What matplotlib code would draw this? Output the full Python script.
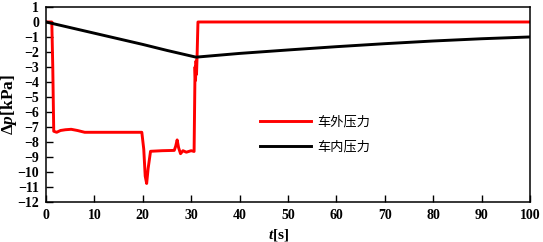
import numpy as np
import matplotlib.pyplot as plt

# outside pressure (red)
red_t = [0, 1.2, 1.4, 1.6, 2.2, 3.0, 4.0, 5.2, 6.5, 8.0, 19.8, 20.2, 20.5, 20.8, 21.1,
         21.6, 24.0, 26.5, 26.8, 27.1, 27.4, 27.8, 28.3, 29.0, 30.0, 30.6, 30.8, 30.9,
         31.0, 31.1, 31.2, 31.4, 100]
red_p = [0, 0, -3.0, -7.3, -7.37, -7.25, -7.2, -7.17, -7.25, -7.37, -7.37, -8.5, -10.3,
         -10.79, -9.8, -8.64, -8.6, -8.58, -8.3, -7.88, -8.4, -8.8, -8.6, -8.7, -8.6,
         -8.65, -3.0, -3.9, -2.6, -3.5, -2.5, 0, 0]

# inside pressure (black)
blk_t = [0, 10, 20, 25, 31, 40, 50, 60, 70, 80, 90, 100]
blk_p = [0, -0.75, -1.5, -1.9, -2.35, -2.1, -1.87, -1.65, -1.45, -1.27, -1.12, -1.0]

labels = ['车外压力', '车内压力']
xticks = list(range(0, 101, 10))
yticks = list(range(-12, 2))

plt.rcParams['font.family'] = ['Liberation Serif', 'Noto Sans CJK SC']
plt.rcParams['mathtext.fontset'] = 'custom'
plt.rcParams['mathtext.rm'] = 'Liberation Serif:bold'
plt.rcParams['mathtext.it'] = 'Liberation Serif:italic:bold'

fig = plt.figure(figsize=(5.43, 2.42), dpi=100)
ax = fig.add_axes([0.0847, 0.167, 0.8913, 0.804])

ax.plot(red_t, red_p, '-', color='red', lw=2.1, label=labels[0])
ax.plot(blk_t, blk_p, '-', color='black', lw=2.1, label=labels[1])

ax.set_xlim(0, 100)
ax.set_ylim(-12, 1)
ax.set_xticks(xticks)
ax.set_yticks(yticks)
ax.tick_params(direction='in', length=5, width=1.0, labelsize=10, pad=5)
for lab in ax.get_xticklabels() + ax.get_yticklabels():
    lab.set_fontweight('bold')
for s in ax.spines.values():
    s.set_linewidth(1.1)

ax.set_xlabel(r'$t$[s]', fontsize=11, fontweight='bold')
ax.set_ylabel(r'$\Delta p$[kPa]', fontsize=12.5, fontweight='bold')
ax.xaxis.set_label_coords(0.48, -0.13)
ax.yaxis.set_label_coords(-0.056, 0.5)

leg = ax.legend(loc='upper left', bbox_to_anchor=(0.443, 0.44), frameon=False,
                prop={'family': 'Noto Sans CJK SC', 'size': 9.5},
                handlelength=3.8, handletextpad=0.5, labelspacing=0.85,
                borderpad=0, borderaxespad=0)

fig.savefig('out.png', dpi=100)
